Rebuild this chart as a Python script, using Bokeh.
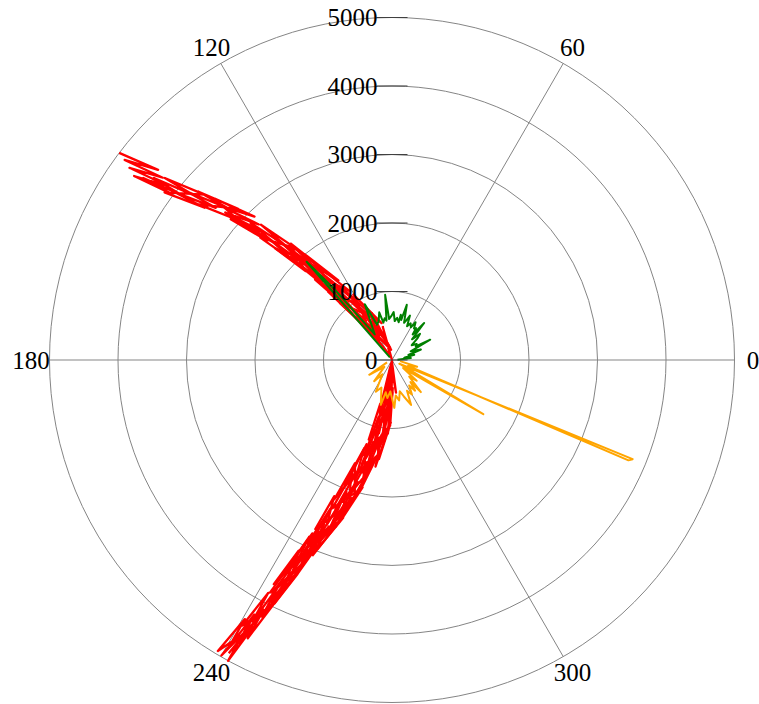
import numpy as np
from bokeh.plotting import figure
from bokeh.models import Range1d
from bokeh.embed import file_html
from bokeh.resources import INLINE
from bokeh.core.properties import value

# ---------------- data ----------------
radial_ticks = [0, 1000, 2000, 3000, 4000, 5000]
radial_labels = ["0", "1000", "2000", "3000", "4000", "5000"]
angle_ticks = [0, 60, 120, 180, 240, 300]
angle_labels = ["0", "60", "120", "180", "240", "300"]

# red series, arm towards ~140 deg (outer -> centre)
red1_theta = [
    142.8, 140.9, 143.2, 141.5, 143.8, 142.2, 144.5, 143.0, 143.8, 141.9,
    142.6, 140.3, 141.3, 138.6, 143.6, 140.9, 142.3, 139.2, 140.6, 137.3,
    139.0, 135.5, 141.2, 137.7, 137.7, 133.8, 138.1, 134.5, 138.5, 135.3,
    138.9, 136.3, 137.6, 135.1, 135.9, 132.9, 134.1, 130.7, 137.1, 134.8,
    135.3, 132.5, 133.3, 129.9, 131.0, 127.0, 134.8, 132.0, 129.5, 124.0,
    130.6, 125.4, 132.0, 127.6, 133.7, 130.7, 132.1, 127.3, 128.6, 120.2,
    124.3, 111.5, 132.4, 127.3, 128.2, 118.1, 121.6, 106.9, 113.5, 95.0,
    126.5, 115.0, 105.5, 100.0,
]
red1_r = [
    5000, 4400, 4875, 4275, 4750, 4150, 4625, 4025, 4500, 3900,
    4375, 3775, 4250, 3650, 4125, 3525, 4000, 3400, 3875, 3275,
    3750, 3150, 3625, 3025, 3500, 2900, 3375, 2775, 3250, 2650,
    3125, 2525, 3000, 2400, 2875, 2275, 2750, 2150, 2625, 2025,
    2500, 1900, 2375, 1775, 2250, 1650, 2125, 1525, 2000, 1400,
    1875, 1275, 1750, 1150, 1625, 1025, 1500, 900, 1375, 775,
    1250, 650, 1125, 525, 1000, 400, 875, 275, 750, 150,
    625, 50, 500, 0,
]
# second pass of the same arm near the centre (centre -> outer)
red1b_theta = [
    115.4, 126.4, 98.8, 115.1, 125.6, 131.0, 112.1, 124.3, 105.7, 120.6,
    123.6, 130.2, 130.6, 133.1, 120.1, 128.0, 126.2, 131.1, 121.7, 128.2,
    131.4, 134.1, 128.9, 132.4, 132.1, 134.7, 127.8, 131.5, 134.2, 136.3,
    131.1, 134.0,
]
red1b_r = [
    60, 610, 185, 735, 310, 860, 435, 985, 560, 1110,
    685, 1235, 810, 1360, 935, 1485, 1060, 1610, 1185, 1735,
    1310, 1860, 1435, 1985, 1560, 2110, 1685, 2235, 1810, 2360,
    1935, 2485,
]

# red series, arm towards ~245 deg (centre -> outer)
red2_theta = [
    255.6, 256.2, 260.8, 260.3, 265.7, 263.8, 270.5, 266.8, 267.4, 263.4,
    262.0, 258.4, 256.8, 253.8, 267.6, 261.2, 262.1, 257.0, 257.1, 252.9,
    252.5, 249.0, 260.1, 254.8, 250.3, 247.5, 252.5, 249.2, 254.4, 250.4,
    255.8, 251.3, 253.5, 249.6, 250.3, 247.3, 247.5, 245.3, 252.0, 247.9,
    249.2, 246.3, 246.9, 244.7, 244.9, 243.2, 247.5, 245.3, 243.9, 242.2,
    244.6, 242.8, 245.3, 243.3, 245.8, 243.8, 244.8, 243.1, 243.3, 241.9,
    242.0, 240.6, 244.1, 242.6, 242.8, 241.6, 241.6, 240.4, 240.4, 239.1,
    242.5, 241.4, 241.5, 240.0, 242.2, 240.9,
]
red2_r = [
    100, 700, 225, 825, 350, 950, 475, 1075, 600, 1200,
    725, 1325, 850, 1450, 975, 1575, 1100, 1700, 1225, 1825,
    1350, 1950, 1475, 2075, 1600, 2200, 1725, 2325, 1850, 2450,
    1975, 2575, 2100, 2700, 2225, 2825, 2350, 2950, 2475, 3075,
    2600, 3200, 2725, 3325, 2850, 3450, 2975, 3575, 3100, 3700,
    3225, 3825, 3350, 3950, 3475, 4075, 3600, 4200, 3725, 4325,
    3850, 4450, 3975, 4575, 4100, 4700, 4225, 4825, 4350, 4950,
    4400, 5000, 4300, 4980, 4350, 4900,
]
# second pass of the same arm (centre -> outer)
red2b_theta = [
    262.0, 268.0, 274.0, 258.0, 266.0, 277.0, 255.0, 263.0, 271.0,
    270.6, 268.9, 257.8, 257.9, 271.5, 268.4, 261.7, 259.9, 255.0, 253.7,
    265.5, 261.3, 268.9, 262.5, 257.3, 253.8, 260.3, 255.9, 253.2, 250.1,
    261.4, 256.3, 256.2, 252.1, 258.2, 253.6, 250.4, 248.1, 257.0, 252.3,
    250.9, 248.4, 247.0, 245.6, 251.8, 248.4, 252.8, 248.5, 247.3, 245.2,
    248.4, 245.9, 245.3, 243.6, 248.2, 246.0, 246.1, 244.3, 246.7, 244.8,
    243.8, 242.3, 246.2, 244.2,
]
red2b_r = [
    0, 620, 40, 560, 20, 480, 60, 640, 30,
    160, 710, 285, 835, 410, 960, 535, 1085, 660, 1210,
    785, 1335, 910, 1460, 1035, 1585, 1160, 1710, 1285, 1835,
    1410, 1960, 1535, 2085, 1660, 2210, 1785, 2335, 1910, 2460,
    2035, 2585, 2160, 2710, 2285, 2835, 2410, 2960, 2535, 3085,
    2660, 3210, 2785, 3335, 2910, 3460, 3035, 3585, 3160, 3710,
    3285, 3835, 3410, 3960,
]

green_theta = [
    128, 131, 129, 124, 116, 113, 109, 105, 103, 100,
    98, 96, 94, 91, 88, 86, 83, 80, 79, 77,
    75, 72, 70, 68, 66, 63, 60, 58, 55, 53,
    51, 49, 46, 43, 40.6, 37, 33, 30, 28, 25,
    20, 17, 13.4, 10, 6, 3,
]
green_r = [
    50, 1900, 1300, 450, 905, 560, 600, 720, 560, 620,
    580, 957, 600, 640, 700, 570, 620, 560, 673, 600,
    835, 570, 620, 700, 540, 600, 550, 650, 560, 583,
    480, 716, 420, 560, 493, 360, 430, 400, 632, 300,
    449, 250, 334, 180, 277, 80,
]

orange_theta = [
    205, 213, 222, 230, 236, 243, 249, 256, 259, 263,
    267, 272.8, 276, 280, 284, 288, 293, 296, 300, 304,
    307, 310, 312, 316, 320, 324, 329.3, 333, 337.6, 337.0,
    340, 345, 352,
]
orange_r = [
    80, 396, 150, 404, 250, 520, 430, 675, 480, 560,
    460, 700, 520, 600, 470, 560, 712, 500, 580, 450,
    560, 420, 630, 350, 470, 200, 1550, 120, 3800, 3750,
    250, 380, 120,
]

# ---------------- geometry ----------------
W, H = 759, 704
CX, CY = 391.5, 359.5        # centre in frame pixels (from top-left)
R_PX = 342.5                 # pixel radius of outer circle
RMAX = 5000
s = R_PX / RMAX              # pixels per data unit


def to_xy(theta, r):
    t = np.deg2rad(np.asarray(theta, dtype=float))
    rr = np.asarray(r, dtype=float)
    return rr * np.cos(t), rr * np.sin(t)


p = figure(width=W, height=H,
           x_range=Range1d(-CX / s, (W - CX) / s),
           y_range=Range1d(-(H - CY) / s, CY / s),
           x_axis_type=None, y_axis_type=None,
           toolbar_location=None, output_backend="svg",
           min_border=0, outline_line_color=None)
p.background_fill_color = "white"

grid_col = "#858585"
n_c = len(radial_ticks) - 1
p.circle(x=[0] * n_c, y=[0] * n_c, radius=radial_ticks[1:], fill_color=None,
         line_color=grid_col, line_width=1)
sx, sy = to_xy(angle_ticks, [RMAX] * len(angle_ticks))
p.segment(x0=[0] * len(angle_ticks), y0=[0] * len(angle_ticks), x1=sx, y1=sy,
          line_color=grid_col, line_width=1)

# data
for th, rr in ((red1_theta, red1_r), (red1b_theta, red1b_r),
               (red2_theta, red2_r), (red2b_theta, red2b_r)):
    x, y = to_xy(th, rr)
    p.line(x, y, line_color="#ff0000", line_width=2.3, line_join="round")
gx, gy = to_xy(green_theta, green_r)
p.line(gx, gy, line_color="#008000", line_width=2, line_join="round")
ox, oy = to_xy(orange_theta, orange_r)
p.line(ox, oy, line_color="#ffa500", line_width=2, line_join="round")

# radial ticks and labels
nt = len(radial_ticks)
p.segment(x0=[-15.5 / s] * nt, y0=radial_ticks, x1=[15.5 / s] * nt,
          y1=radial_ticks, line_color="#404040", line_width=1)
p.text(x=[-14.5 / s] * nt, y=radial_ticks, text=radial_labels,
       text_align="right", text_baseline="middle",
       text_font=value("Liberation Serif"), text_font_size="25px",
       text_color="black")

# angular labels
lx, ly = to_xy(angle_ticks, [361 / s] * len(angle_ticks))
p.text(x=lx, y=ly, text=angle_labels, text_align="center",
       text_baseline="middle", text_font=value("Liberation Serif"),
       text_font_size="25px", text_color="black")

open("out.html", "w").write(file_html(p, INLINE))
